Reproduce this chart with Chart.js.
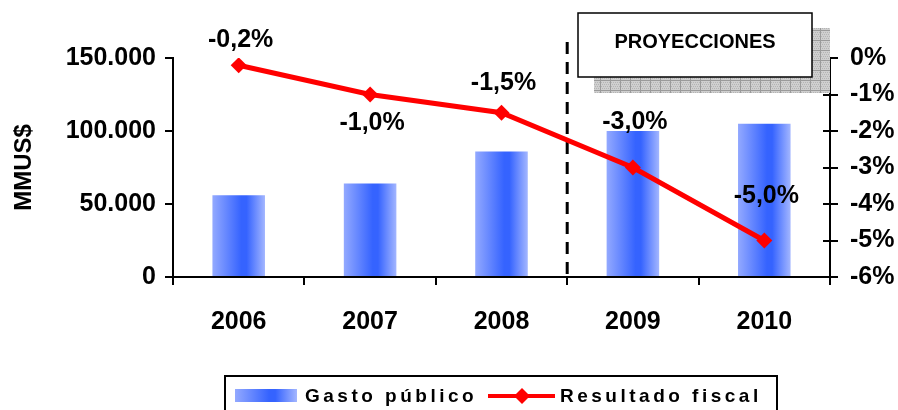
<!DOCTYPE html>
<html>
<head>
<meta charset="utf-8">
<script src="https://cdn.jsdelivr.net/npm/chart.js@4/dist/chart.umd.min.js"></script>
<style>
  body { margin: 0; background: #fff; }
  #wrap { width: 898px; height: 410px; }
</style>
</head>
<body>
<div id="wrap"><canvas id="fiscalChart" width="898" height="410"></canvas></div>
<script>
const ctx = document.getElementById("fiscalChart").getContext("2d");

const YEARS = ["2006", "2007", "2008", "2009", "2010"];
const GASTO = [56000, 64000, 86000, 100000, 105000];
const RESULTADO = [-0.2, -1.0, -1.5, -3.0, -5.0];
const LEFT_TICKS = [0, 50000, 100000, 150000];
const RIGHT_TICKS = [0, -1, -2, -3, -4, -5, -6];

const FONT = "'Liberation Sans', Arial, sans-serif";
const RED = "#ff0000";

// label offsets (px) above/below each point
const LABEL_OFFSETS = [-25, 29, -30, -45, -44];

function barGradient(c, x0, x1) {
  const g = c.createLinearGradient(x0, 0, x1, 0);
  g.addColorStop(0, "#93a9ff");
  g.addColorStop(0.55, "#3563ff");
  g.addColorStop(0.65, "#3563ff");
  g.addColorStop(1, "#a3b6ff");
  return g;
}

function hatchPattern(c) {
  const p = document.createElement("canvas");
  p.width = 10;
  p.height = 10;
  const pc = p.getContext("2d");
  pc.fillStyle = "#cfcfcf";
  pc.fillRect(0, 0, 10, 10);
  pc.fillStyle = "#b4b4b4";
  for (let i = 0; i < 10; i += 2) {
    for (let j = (i / 2) % 2; j < 10; j += 2) pc.fillRect(j, i, 1, 1);
  }
  pc.fillStyle = "#9a9a9a";
  pc.fillRect(0, 0, 10, 1);
  pc.fillRect(0, 0, 1, 10);
  return c.createPattern(p, "repeat");
}

function fmtThousands(v) {
  return String(v).replace(/\B(?=(\d{3})+(?!\d))/g, ".");
}

function diamond(c, x, y, r) {
  c.beginPath();
  c.moveTo(x, y - r);
  c.lineTo(x + r, y);
  c.lineTo(x, y + r);
  c.lineTo(x - r, y);
  c.closePath();
  c.fill();
}

const extras = {
  id: "extras",
  beforeDatasetsDraw(chart) {
    const c = chart.ctx;
    const xs = chart.scales.x;
    const xd = (xs.getPixelForValue(2) + xs.getPixelForValue(3)) / 2;
    c.save();
    c.strokeStyle = "#000";
    c.lineWidth = 3;
    c.setLineDash([12, 8]);
    c.beginPath();
    c.moveTo(xd, 42);
    c.lineTo(xd, chart.chartArea.bottom);
    c.stroke();
    c.restore();
  },
  afterDatasetsDraw(chart) {
    const c = chart.ctx;
    const meta = chart.getDatasetMeta(1);
    c.save();
    c.fillStyle = "#000";
    c.font = "bold 25px " + FONT;
    c.textAlign = "center";
    c.textBaseline = "middle";
    meta.data.forEach((pt, i) => {
      const txt = RESULTADO[i].toFixed(1).replace(".", ",") + "%";
      c.fillText(txt, pt.x + 2, pt.y + LABEL_OFFSETS[i]);
    });
    // inner half of right-axis tick marks
    const y1 = chart.scales.y1;
    c.strokeStyle = "#000";
    c.lineWidth = 2;
    RIGHT_TICKS.forEach((v) => {
      const y = Math.round(y1.getPixelForValue(v));
      c.beginPath();
      c.moveTo(chart.chartArea.right - 7, y);
      c.lineTo(chart.chartArea.right, y);
      c.stroke();
    });
    c.restore();
  },
  afterDraw(chart) {
    const c = chart.ctx;
    c.save();
    // PROYECCIONES box with shadow
    c.fillStyle = hatchPattern(c);
    c.fillRect(594, 28, 236, 65);
    c.fillStyle = "#fff";
    c.fillRect(578, 13, 234, 64);
    c.strokeStyle = "#000";
    c.lineWidth = 1.5;
    c.strokeRect(578, 13, 234, 64);
    c.fillStyle = "#000";
    c.font = "bold 20px " + FONT;
    c.textAlign = "center";
    c.textBaseline = "middle";
    c.fillText("PROYECCIONES", 695, 42);

    // legend
    c.lineWidth = 2;
    c.strokeRect(225, 376, 552, 44);
    c.fillStyle = barGradient(c, 235, 297);
    c.fillRect(235, 389, 62, 13);
    c.fillStyle = "#000";
    c.font = "bold 19px " + FONT;
    c.textAlign = "left";
    c.letterSpacing = "3.5px";
    c.fillText("Gasto público", 305, 397);
    c.fillText("Resultado fiscal", 560, 397);
    c.letterSpacing = "0px";
    c.strokeStyle = RED;
    c.lineWidth = 4;
    c.beginPath();
    c.moveTo(488, 396);
    c.lineTo(555, 396);
    c.stroke();
    c.fillStyle = RED;
    diamond(c, 522, 396, 8);
    c.restore();
  },
};

const data = {
  labels: YEARS,
  datasets: [
    {
      type: "bar",
      label: "Gasto público",
      data: GASTO,
      yAxisID: "y",
      order: 1,
      barPercentage: 0.4,
      categoryPercentage: 1,
      backgroundColor: (context) => {
        const chart = context.chart;
        const xs = chart.scales.x;
        if (!xs || context.dataIndex === undefined) return "#3563ff";
        const cx = xs.getPixelForValue(context.dataIndex);
        const half = (xs.width / YEARS.length) * 0.2;
        if (!isFinite(cx) || !isFinite(half) || half <= 0) return "#3563ff";
        return barGradient(chart.ctx, cx - half, cx + half);
      },
    },
    {
      type: "line",
      label: "Resultado fiscal",
      data: RESULTADO,
      yAxisID: "y1",
      order: 0,
      borderColor: RED,
      backgroundColor: RED,
      borderWidth: 5,
      pointStyle: "rectRot",
      pointRadius: 8,
      pointHoverRadius: 8,
      pointBorderWidth: 0,
      fill: false,
      tension: 0,
    },
  ],
};

const config = {
  type: "bar",
  data: data,
  options: {
    responsive: false,
    animation: false,
    layout: { padding: { top: 58, left: 0, right: 0, bottom: 0 } },
    plugins: {
      legend: { display: false },
      tooltip: { enabled: false },
    },
    scales: {
      x: {
        offset: true,
        grid: {
          offset: true,
          drawOnChartArea: false,
          drawTicks: true,
          tickLength: 8,
          color: "#000",
          lineWidth: 2,
        },
        border: { color: "#000", width: 2 },
        ticks: {
          color: "#000",
          font: { family: FONT, size: 25, weight: "bold" },
          padding: 22,
          maxRotation: 0,
        },
        afterFit: (s) => { s.height = 133; },
      },
      y: {
        position: "left",
        min: 0,
        max: 150000,
        afterBuildTicks: (s) => { s.ticks = LEFT_TICKS.map((v) => ({ value: v })); },
        grid: { drawOnChartArea: false, tickLength: 8, color: "#000", lineWidth: 2 },
        border: { color: "#000", width: 2 },
        ticks: {
          color: "#000",
          font: { family: FONT, size: 25, weight: "bold" },
          padding: 9,
          callback: (v) => fmtThousands(v),
        },
        title: {
          display: true,
          text: "MMUS$",
          color: "#000",
          font: { family: FONT, size: 24, weight: "bold" },
          padding: { top: 10, bottom: 0 },
        },
        afterFit: (s) => { s.width = 173; },
      },
      y1: {
        position: "right",
        min: -6,
        max: 0,
        afterBuildTicks: (s) => { s.ticks = RIGHT_TICKS.map((v) => ({ value: v })); },
        grid: { drawOnChartArea: false, tickLength: 8, color: "#000", lineWidth: 2 },
        border: { color: "#000", width: 2 },
        ticks: {
          color: "#000",
          font: { family: FONT, size: 25, weight: "bold" },
          padding: 12,
          callback: (v) => v + "%",
        },
        afterFit: (s) => { s.width = 68; },
      },
    },
  },
  plugins: [extras],
};

const fiscalChart = new Chart(ctx, config);
</script>
</body>
</html>
